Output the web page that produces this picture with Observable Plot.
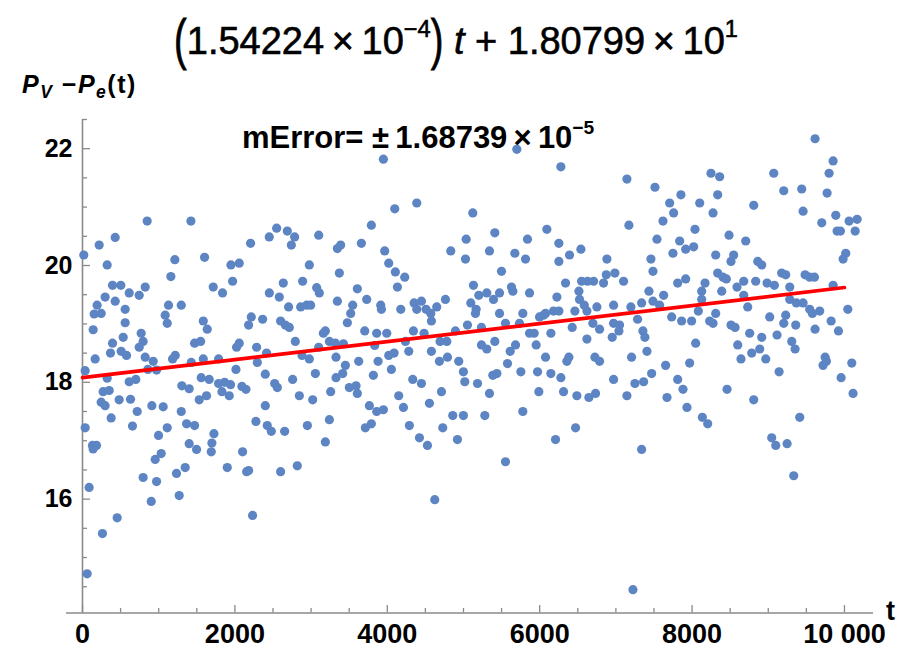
<!DOCTYPE html>
<html>
<head>
<meta charset="utf-8">
<script src="https://cdn.jsdelivr.net/npm/d3@7"></script>
<script src="https://cdn.jsdelivr.net/npm/@observablehq/plot@0.6"></script>
<style>
  body { margin: 0; background: #fff; }
  #chart { position: relative; width: 912px; height: 649px; font-family: "Liberation Sans", Arial, sans-serif; color: #000; }
  #chart svg { position: absolute; left: 0; top: 0; }
  .lbl { position: absolute; white-space: nowrap; line-height: 1; }
  .lbl sup { font-size: 0.62em; vertical-align: 0; position: relative; top: -0.72em; }
  .lbl sub { font-size: 0.7em; vertical-align: 0; position: relative; top: 0.3em; font-style: italic; }
  .paren { display: inline-block; transform: scale(1, 1.45); transform-origin: 50% 62%; }
</style>
</head>
<body>
<div id="chart">
  <div class="lbl" id="fitTitle"></div>
  <div class="lbl" id="yLabel"></div>
  <div class="lbl" id="errLabel"></div>
  <div class="lbl" id="tLabel">t</div>
</div>
<script>
// Linear fit of P_V − P_e against t, and the error of its slope
const fitSlope = 1.54224e-4;
const fitIntercept = 1.80799e1;
const slopeError = 1.68739e-5;
const fitRange = [0, 10000];

// Axis ticks
const xTicks = [0, 2000, 4000, 6000, 8000, 10000];
const xTickLabels = ["0", "2000", "4000", "6000", "8000", "10 000"];
const xMinorTicks = [500, 1000, 1500, 2500, 3000, 3500, 4500, 5000, 5500, 6500, 7000, 7500, 8500, 9000, 9500];
const yTicks = [16, 18, 20, 22];
const yTickLabels = ["16", "18", "20", "22"];
const yMinorTicks = [14.5, 15, 15.5, 16.5, 17, 17.5, 18.5, 19, 19.5, 20.5, 21, 21.5, 22.5];

// Samples [t, P_V − P_e(t)], grouped by range of t
const samplesT0 = [
  [849,20.76],[1423,20.76],[429,20.48],[219,20.35],[17,20.18],[1212,20.10],[1602,20.14],[324,20.01],[2206,20.38],[2451,20.49],
  [1948,20.01],[2057,20.04],[1160,19.81],[1970,19.73],[394,19.66],[503,19.66],[823,19.63],[1716,19.63],[1838,19.53],[613,19.53],
  [744,19.49],[297,19.46],[429,19.39],[192,19.32],[1129,19.32],[1296,19.32],[560,19.25],[153,19.17],[245,19.18],[1085,19.15],
  [2215,19.12],[2364,19.08],[560,19.02],[1112,19.01],[1585,19.05],[2180,18.98],[140,18.90],[1637,18.91],[770,18.84],[534,18.77],
  [796,18.70],[394,18.67],[1471,18.67],[1550,18.70],[2057,18.67],[2022,18.60],[744,18.60],[2285,18.60],[367,18.50],[508,18.53],
  [578,18.46],[1217,18.46],[2416,18.50],[166,18.40],[823,18.43],[928,18.36],[1182,18.40],[1585,18.40],[1786,18.40],[1427,18.34],
  [35,18.20],[324,18.07],[858,18.22],[972,18.21],[613,18.01],[700,18.05],[1304,17.94],[1400,17.89],[1558,18.08],[1663,18.05],
  [1532,17.70],[1628,17.77],[1786,17.98],[1865,18.00],[1943,17.96],[1830,17.84],[1926,17.77],[2014,18.22],[2092,17.93],[2145,17.88],
  [2294,18.34],[2399,18.14],[271,17.84],[350,17.86],[245,17.66],[297,17.60],[481,17.70],[630,17.71],[376,17.39],[718,17.50],
  [910,17.60],[1059,17.58],[35,17.22],[656,17.25],[1112,17.22],[1296,17.50],[1366,17.29],[1471,17.26],[998,17.09],[1725,17.12],
  [131,16.92],[184,16.92],[140,16.86],[1400,16.95],[1497,16.85],[1698,16.96],[1690,16.81],[1033,16.78],[954,16.68],[2101,16.81],
  [1348,16.54],[1234,16.44],[1900,16.54],[2180,16.49],[2154,16.47],[796,16.37],[972,16.30],[2276,17.33],[2399,17.60],[2425,17.26],
  [87,16.20],[1269,16.06],[902,15.96],[2232,15.72],[455,15.68],[262,15.41],[61,14.72]
];
const samplesT2500 = [
  [3949,21.82],[4387,21.07],[4098,20.97],[3791,20.69],[2548,20.64],[2688,20.59],[2784,20.49],[2741,20.35],[3100,20.52],[3388,20.35],
  [3345,20.29],[3660,20.38],[3966,20.25],[4833,20.25],[4019,20.04],[4106,19.89],[4229,19.80],[4133,19.63],[2977,20.01],[3371,19.87],
  [2635,19.70],[2452,19.53],[2583,19.46],[2889,19.73],[3073,19.62],[3108,19.53],[3607,19.60],[3730,19.42],[3345,19.39],[2705,19.29],
  [2863,19.29],[2942,19.32],[2994,19.32],[3546,19.32],[3520,19.18],[3476,19.02],[3914,19.32],[3923,19.25],[4177,19.25],[4352,19.36],
  [4448,19.39],[4387,19.25],[4509,19.25],[4571,19.18],[4649,19.29],[4579,19.05],[4763,19.42],[2600,19.05],[2662,18.98],[2714,18.94],
  [3187,18.88],[3161,18.84],[3704,18.88],[3861,18.84],[3993,18.84],[4343,18.88],[4483,18.84],[4894,18.88],[2793,18.70],[3240,18.70],
  [3319,18.67],[3424,18.66],[3100,18.60],[3835,18.63],[4238,18.70],[4693,18.70],[4781,18.70],[2881,18.46],[2977,18.40],[3327,18.43],
  [3625,18.36],[3879,18.36],[4019,18.46],[4089,18.50],[4282,18.53],[4579,18.53],[4684,18.36],[4790,18.43],[4938,18.36],
  [2522,17.98],[2557,17.91],[2758,18.05],[3056,18.15],[3327,18.08],[3450,18.29],[3415,18.15],[3257,17.84],[3502,17.91],[3590,17.94],
  [3607,17.81],[3817,18.12],[4054,18.22],[4150,17.77],[4212,17.57],[4334,18.05],[4448,17.98],[4553,17.64],[4711,17.84],[2846,17.77],
  [3021,17.70],[3765,17.60],[3861,17.50],[3949,17.53],[2478,17.16],[2653,17.16],[2951,17.26],[3240,17.36],[3712,17.22],[3791,17.29],
  [4290,17.26],[4422,17.05],[4527,16.92],[4728,17.22],[4859,17.43],[4921,17.02],[3187,16.98],[2600,16.47],[2819,16.57],[4623,15.99]
];
const samplesT5000 = [
  [6278,21.69],[5700,21.99],[7145,21.48],[7513,21.34],[5122,20.90],[6094,20.62],[7171,20.69],[5035,20.45],[5411,20.56],[5840,20.45],
  [6252,20.38],[7539,20.45],[5026,20.11],[5341,20.25],[5674,20.21],[5814,20.11],[6392,20.18],[6252,20.07],[6541,20.28],[6882,20.11],
  [7460,20.11],[5499,19.90],[6874,19.84],[6987,19.87],[6838,19.70],[7101,19.73],[7487,19.90],[5131,19.66],[5630,19.63],[5648,19.56],
  [6339,19.70],[6550,19.73],[6628,19.73],[6707,19.73],[6515,19.56],[7434,19.56],[5201,19.49],[5306,19.53],[5394,19.42],[5473,19.53],
  [5867,19.53],[6226,19.46],[5096,19.36],[5166,19.25],[5157,19.18],[5473,19.18],[5779,19.18],[6077,19.18],[6182,19.22],[6252,19.22],
  [6462,19.22],[6523,19.42],[6585,19.32],[6620,19.22],[6751,19.29],[6970,19.32],[7197,19.29],[7338,19.36],[7487,19.39],[7574,19.32],
  [5052,18.98],[5236,18.94],[5551,19.01],[5735,19.01],[5998,19.12],[6050,19.15],[6427,18.94],[6698,19.01],[6786,18.91],[6970,19.01],
  [7048,18.98],[7040,18.88],[7285,19.08],[5867,18.84],[5928,18.84],[6147,18.84],[6620,18.74],[6952,18.77],[7355,18.88],[7381,18.77],
  [5411,18.70],[5236,18.64],[5306,18.57],[5613,18.53],[5683,18.64],[5954,18.64],[7408,18.53],[6077,18.43],[6383,18.43],[6357,18.36],
  [6725,18.43],[6786,18.36],[7206,18.43],[5578,18.32],
  [4999,18.18],[5017,18.01],[5184,17.98],[5341,17.81],[5385,18.12],[5438,18.15],[5753,18.18],[5972,18.18],[6147,18.15],[6278,18.08],
  [5989,17.84],[6313,17.84],[6488,17.77],[6646,17.74],[6733,17.81],[6970,18.05],[7145,17.77],[7250,17.98],[7364,18.01],[7469,18.15],
  [4999,17.43],[5280,17.43],[5779,17.50],[6471,17.22],[6208,17.02],[7338,16.85],[5551,16.64],[7224,14.45]
];
const samplesT7500 = [
  [9614,22.17],[9851,21.79],[9798,21.58],[8248,21.58],[8362,21.52],[9072,21.58],[9203,21.28],[9439,21.31],[9772,21.24],[7854,21.21],
  [7706,21.07],[7758,20.90],[7618,20.76],[8100,21.07],[8336,21.21],[8275,20.90],[8809,21.03],[9457,20.93],[9702,20.73],[9886,20.86],
  [9903,20.59],[9947,20.59],[10061,20.76],[10166,20.79],[10140,20.59],[8038,20.62],[7837,20.42],[8021,20.32],[7916,20.28],[7749,20.21],
  [8485,20.52],[8704,20.42],[8310,20.18],[8546,20.18],[8511,20.07],[8862,20.07],[8914,20.01],[10017,20.21],[9982,20.11],[8336,19.87],
  [8406,19.80],[8450,19.77],[8590,19.63],[8678,19.73],[8835,19.73],[8984,19.70],[9080,19.66],[9176,19.87],[9229,19.84],[9282,19.63],
  [9483,19.84],[9544,19.80],[9606,19.80],[9851,19.66],[7811,19.70],[7916,19.77],[8170,19.70],[8126,19.56],[8126,19.42],[8389,19.56],
  [7627,19.49],[8678,19.49],[8730,19.29],[9282,19.42],[9369,19.36],[9457,19.36],[9544,19.25],[9579,19.18],[9675,19.22],[10044,19.25],
  [8082,19.22],[8310,19.18],[7732,19.12],[7863,19.05],[7994,19.05],[8231,19.05],[8275,19.01],[8511,18.98],[8564,18.94],[9019,19.12],
  [9229,19.15],[9203,19.01],[9360,18.98],[9825,19.05],[9921,18.88],[9614,18.91],[8756,18.84],[8914,18.77],[9115,18.81],[8047,18.67],
  [8599,18.64],[9308,18.70],[9352,18.57],[8888,18.57],[8783,18.50],[8642,18.40],[8967,18.40],[9746,18.43],[9763,18.36],[10096,18.33],
  [7968,18.33],
  [7653,18.29],[9719,18.29],[9142,18.18],[7811,18.05],[7881,17.88],[7671,17.74],[7933,17.57],[8135,17.40],[8205,17.29],[8459,17.88],
  [8809,17.70],[9956,18.08],[10113,17.81],[9413,17.40],[9045,17.05],[9098,16.92],[9247,16.95],[9334,16.40]
];

const samples = [...samplesT0, ...samplesT2500, ...samplesT5000, ...samplesT7500]
  .map(([t, dp]) => ({t, dp}));
const fitLine = fitRange.map(t => ({t, dp: fitIntercept + fitSlope * t}));

const axisGray = "#8a8a8a";
const dotBlue = "#5d85c3";
const xDomain = [0, 10381];
const xAxisStart = -210;
const yDomain = [14.05, 22.5];

const chart = Plot.plot({
  width: 912,
  height: 649,
  marginTop: 119,
  marginBottom: 36.5,
  marginLeft: 82,
  marginRight: 39,
  x: {domain: xDomain, label: null},
  y: {domain: yDomain, label: null},
  style: {fontFamily: "'Liberation Sans', Arial, sans-serif", background: "transparent", overflow: "visible"},
  marks: [
    // axis lines: the vertical one at t = 0, the horizontal one along the bottom
    Plot.ruleY([yDomain[0]], {x1: xAxisStart, x2: xDomain[1], stroke: axisGray, strokeWidth: 1.6}),
    Plot.ruleX([0], {y1: yDomain[0], y2: yDomain[1], stroke: axisGray, strokeWidth: 1.6}),
    Plot.axisX(xMinorTicks, {tickSize: -4.5, tickFormat: () => "", stroke: axisGray, strokeWidth: 1.3, label: null}),
    Plot.axisX(xTicks, {
      tickSize: -7.5, tickPadding: 18, stroke: axisGray, strokeWidth: 1.3, fill: "#000",
      tickFormat: d => xTickLabels[xTicks.indexOf(d)],
      fontSize: 27, fontWeight: "bold", label: null
    }),
    Plot.axisY(yMinorTicks, {tickSize: -5, tickFormat: () => "", stroke: axisGray, strokeWidth: 1.3, label: null}),
    Plot.axisY(yTicks, {
      tickSize: -8, tickPadding: 18, stroke: axisGray, strokeWidth: 1.3, fill: "#000",
      tickFormat: d => yTickLabels[yTicks.indexOf(d)],
      fontSize: 25, fontWeight: "bold", label: null
    }),
    Plot.dot(samples, {x: "t", y: "dp", r: 4.6, fill: dotBlue, stroke: null}),
    Plot.line(fitLine, {x: "t", y: "dp", stroke: "#ff0000", strokeWidth: 3.6})
  ]
});
document.getElementById("chart").appendChild(chart);

// Scientific notation pieces for the labels
function sci(v) {
  const [m, e] = v.toExponential(5).split("e");
  return {mant: m, exp: String(+e).replace("-", "\u2212")};
}
const s = sci(fitSlope), c = sci(fitIntercept), err = sci(slopeError);

const title = document.getElementById("fitTitle");
title.style.cssText = "left:0;width:912px;text-align:center;top:22px;font-size:38px;-webkit-text-stroke:0.6px #000;";
title.innerHTML =
  `<span class="paren">(</span>${s.mant}\u2009\u00d7\u200910<sup>${s.exp}</sup><span class="paren">)</span>` +
  ` <i>t</i> + ${c.mant}\u2009\u00d7\u200910<sup>${c.exp}</sup>`;

const yLab = document.getElementById("yLabel");
yLab.style.cssText = "left:22px;top:72px;font-size:25px;font-weight:bold;letter-spacing:1.5px;";
yLab.innerHTML = `<i>P</i><sub>V</sub> \u2212<i>P</i><sub>e</sub>(t)`;

const errLab = document.getElementById("errLabel");
errLab.style.cssText = "left:242px;top:122px;font-size:31px;font-weight:bold;";
errLab.innerHTML = `mError= \u00b1\u2009${err.mant}\u2009\u00d7\u200910<sup>${err.exp}</sup>`;

const tLab = document.getElementById("tLabel");
tLab.style.cssText = "left:886px;top:598px;font-size:27px;font-weight:bold;";
</script>
</body>
</html>
